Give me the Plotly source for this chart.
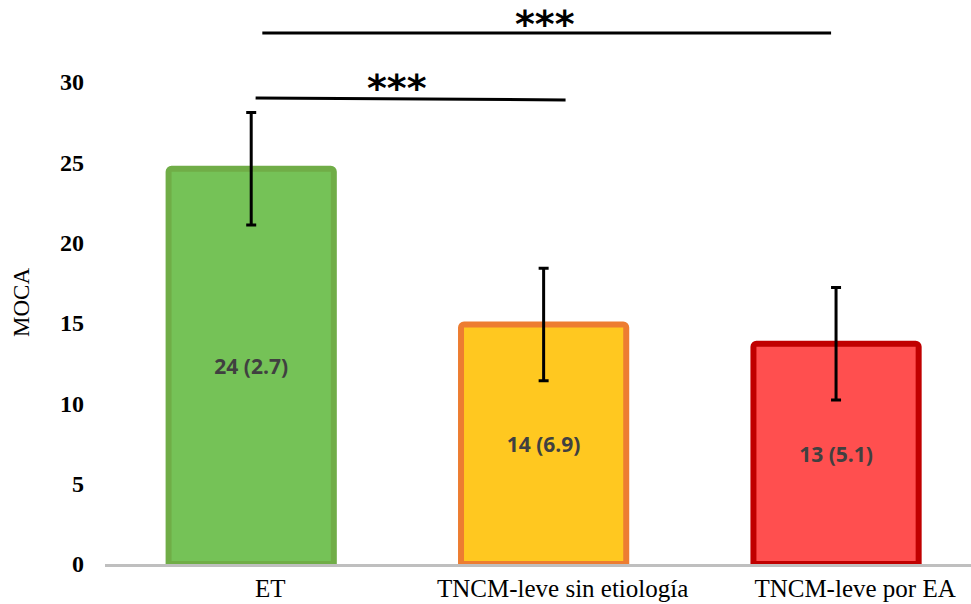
import plotly.graph_objects as go

# MOCA scores by group
categories = ["ET", "TNCM-leve sin etiología", "TNCM-leve por EA"]
means = [24.6, 14.9, 13.7]
errors = [3.5, 3.5, 3.5]
labels = ["24 (2.7)", "14 (6.9)", "13 (5.1)"]
y_ticks = [0, 5, 10, 15, 20, 25, 30]

fill_colors = ["#75C257", "#FFC820", "#FF4F4F"]
line_colors = ["#70AD47", "#ED7D31", "#C00000"]

fig = go.Figure()
fig.add_trace(go.Bar(
    x=categories,
    y=means,
    text=labels,
    textposition="inside",
    insidetextanchor="middle",
    textangle=0,
    textfont=dict(family="Open Sans", size=21, color="#404040", weight="bold"),
    marker=dict(color=fill_colors, line=dict(color=line_colors, width=6), cornerradius=3),
    error_y=dict(type="data", array=errors, color="black", thickness=3, width=5),
    width=0.565,
    showlegend=False,
))

# significance brackets
brackets = [
    dict(x0=0.038, x1=1.983, y0=33.05, y1=33.05, star_x=1.005, star_y=33.0),
    dict(x0=0.015, x1=1.075, y0=29.0, y1=28.88, star_x=0.50, star_y=29.0),
]
for b in brackets:
    fig.add_shape(type="line", xref="x", yref="y", x0=b["x0"], x1=b["x1"],
                  y0=b["y0"], y1=b["y1"], line=dict(color="black", width=3))
    fig.add_annotation(x=b["star_x"], y=b["star_y"], xref="x", yref="y",
                       text="***", showarrow=False, yanchor="bottom", yshift=-14,
                       font=dict(family="DejaVu Sans", size=38, color="black", weight="bold"))

# y-axis title
fig.add_annotation(x=-0.0958, y=0.4628, xref="paper", yref="paper",
                   xanchor="center", yanchor="middle",
                   text="MOCA", textangle=-90, showarrow=False,
                   font=dict(family="Liberation Serif", size=23, color="black"))

fig.update_layout(
    width=971, height=604,
    margin=dict(l=105, r=0, t=0, b=40),
    paper_bgcolor="white", plot_bgcolor="white",
    font=dict(family="Liberation Serif", color="black"),
)
fig.update_xaxes(
    range=[-0.5, 2.4615],
    showline=True, linecolor="#BFBFBF", linewidth=3,
    showgrid=False, ticks="",
    ticklabelshift=19,
    tickfont=dict(family="Liberation Serif", size=25, color="black"),
)
fig.update_yaxes(
    range=[0, 35.1],
    tickvals=y_ticks,
    showgrid=False, showline=False, zeroline=False, ticks="",
    ticklabelstandoff=20,
    tickfont=dict(family="Liberation Serif", size=24, color="black", weight="bold"),
)

fig.write_html("out.html")
